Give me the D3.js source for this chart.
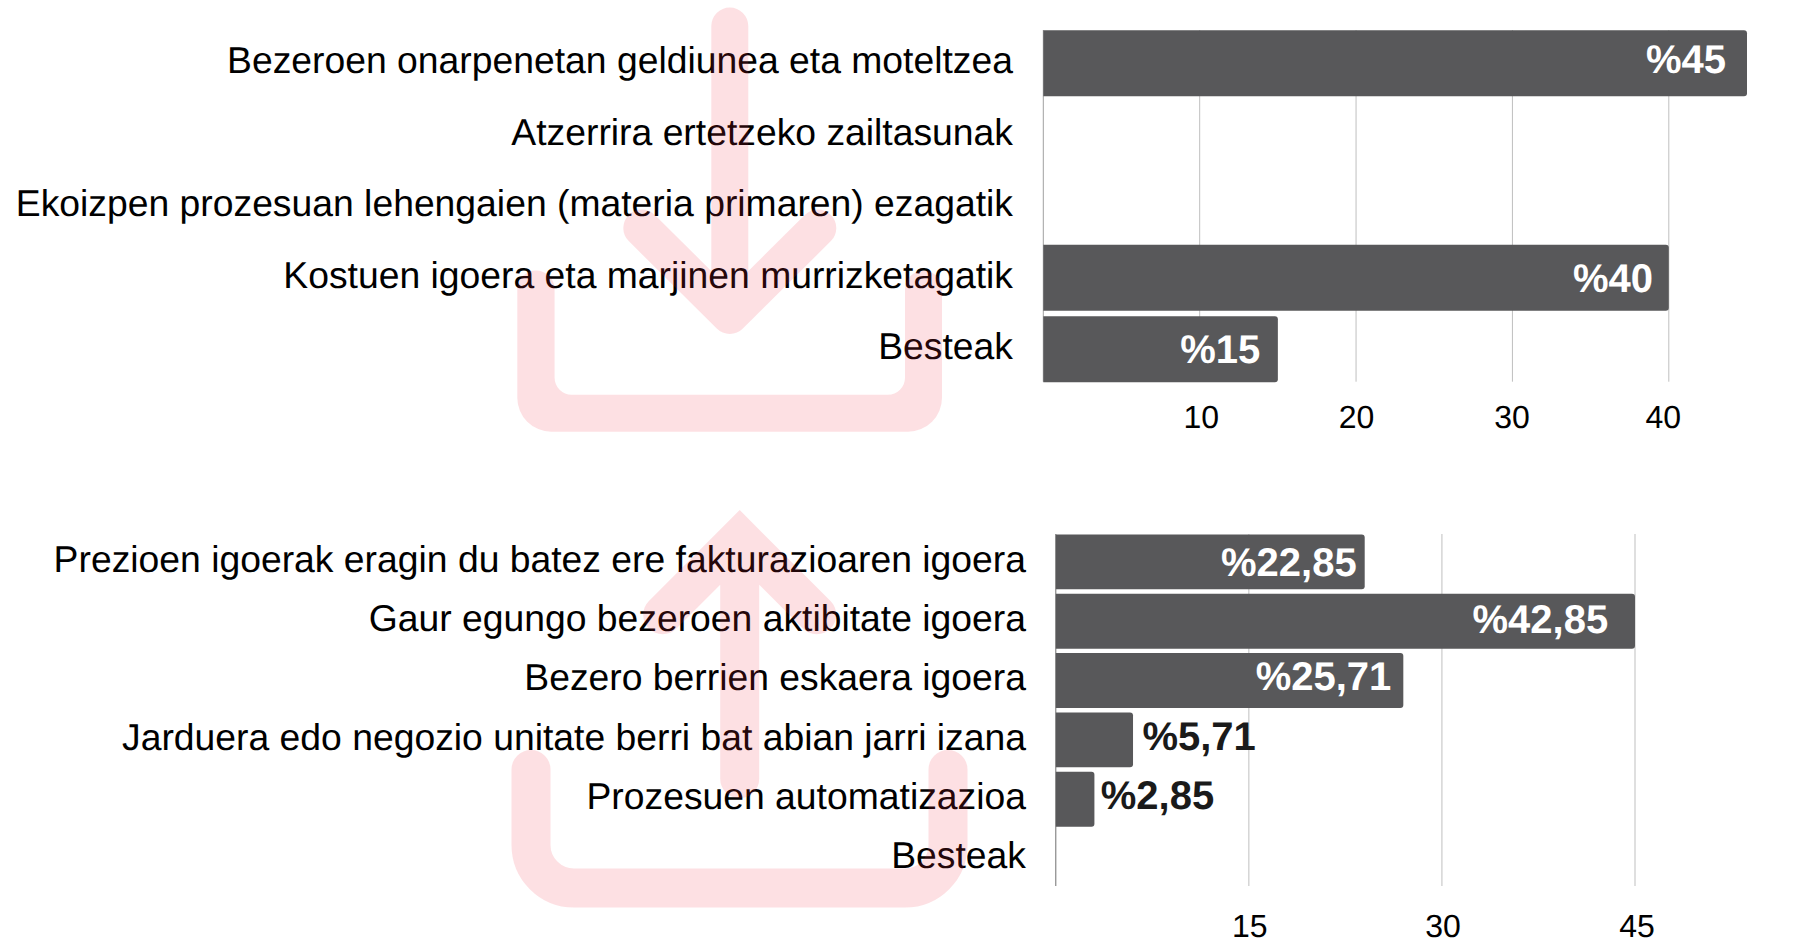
<!DOCTYPE html>
<html><head><meta charset="utf-8">
<script src="https://cdnjs.cloudflare.com/ajax/libs/d3/7.8.5/d3.min.js"></script>
<style>
html,body{margin:0;padding:0;background:#fff;overflow:hidden}
svg{display:block}
text{font-family:"Liberation Sans",Arial,sans-serif;text-rendering:geometricPrecision}
</style></head><body>
<svg id="c" width="1818" height="942"></svg>
<script>
// Top chart
const categoriesA = ["Bezeroen onarpenetan geldiunea eta moteltzea","Atzerrira ertetzeko zailtasunak","Ekoizpen prozesuan lehengaien (materia primaren) ezagatik","Kostuen igoera eta marjinen murrizketagatik","Besteak"];
const valuesA = [45,0,0,40,15];
const labelsA = ["%45","","","%40","%15"];
const ticksA = [10,20,30,40];
// Bottom chart
const categoriesB = ["Prezioen igoerak eragin du batez ere fakturazioaren igoera","Gaur egungo bezeroen aktibitate igoera","Bezero berrien eskaera igoera","Jarduera edo negozio unitate berri bat abian jarri izana","Prozesuen automatizazioa","Besteak"];
const valuesB = [24,45,27,6,3,0];
const labelsB = ["%22,85","%42,85","%25,71","%5,71","%2,85",""];
const ticksB = [15,30,45];

const svg = d3.select("#c");
const BAR = "#58585a", GRID = "#bfbfbf";

function barPath(x0,x1,y,h,r){
  return `M${x0},${y}H${x1-r}Q${x1},${y} ${x1},${y+r}V${y+h-r}Q${x1},${y+h} ${x1-r},${y+h}H${x0}Z`;
}

function chart(o){
  const x = d3.scaleLinear().domain([0,o.xMax]).range([o.x0,o.x1]);
  const y = d3.scaleBand().domain(o.cats).range(o.yRange).paddingInner(o.pad).paddingOuter(o.pad/2);
  const g = svg.append("g");

  // grid
  g.append("g").selectAll("line").data(o.ticks).join("line")
    .attr("x1",d=>x(d)).attr("x2",d=>x(d))
    .attr("y1",o.gridTop).attr("y2",o.gridBottom)
    .attr("stroke",GRID).attr("stroke-width",1);
  g.append("line").attr("x1",x(0)).attr("x2",x(0))
    .attr("y1",o.gridTop).attr("y2",o.gridBottom)
    .attr("stroke",o.axisColor).attr("stroke-width",1);

  // bars
  g.append("g").selectAll("path").data(o.vals.map((v,i)=>({v,c:o.cats[i]})).filter(d=>d.v>0)).join("path")
    .attr("d",d=>barPath(x(0),x(d.v),y(d.c),y.bandwidth(),3))
    .attr("fill",BAR);

  // category labels
  const yAxis = d3.axisLeft(y).tickSize(0).tickPadding(0);
  const ya = g.append("g").attr("transform",`translate(${o.labelRight},${o.catDy})`).call(yAxis);
  ya.select(".domain").remove();
  ya.selectAll("text").attr("font-size",o.catSize).attr("fill","#000").style("font-family",'"Liberation Sans"');

  // x tick labels
  const xAxis = d3.axisBottom(x).tickValues(o.ticks).tickSize(0).tickPadding(0).tickFormat(d3.format("d"));
  const xa = g.append("g").attr("transform",`translate(0,${o.tickY})`).call(xAxis);
  xa.select(".domain").remove();
  xa.selectAll("text").attr("font-size",o.tickSize).attr("fill","#000").attr("dy","0.35em")
    .style("font-family",'"Liberation Sans"')
    .attr("dx",(d,i)=>o.tickDx[i]);

  // data labels
  g.append("g").selectAll("text").data(o.labels.map((l,i)=>({l,i})).filter(d=>d.l)).join("text")
    .attr("x",d=>x(o.vals[d.i])+o.lblDx[d.i])
    .attr("y",d=>y(o.cats[d.i])+y.bandwidth()/2+o.lblDy[d.i])
    .attr("dy","0.36em")
    .attr("text-anchor",d=>o.lblDx[d.i]>0?"start":"end")
    .attr("font-size",o.lblSize).attr("font-weight","bold")
    .attr("fill",d=>o.lblDx[d.i]>0?"#1a1a1a":"#fff")
    .text(d=>d.l);
}

chart({cats:categoriesA,vals:valuesA,labels:labelsA,ticks:ticksA,xMax:45,
  x0:1043.3,x1:1747,yRange:[27.5,385],pad:0.08,gridTop:30,gridBottom:381.7,axisColor:"#a0a0a0",
  labelRight:1013,catDy:-2,catSize:37.3,tickY:417,tickSize:32,tickDx:[1,0,-1,-6],
  lblDx:[-21,0,0,-15.7,-17.6],lblDy:[-4.5,0,0,-0.5,-0.5],lblSize:40});

chart({cats:categoriesB,vals:valuesB,labels:labelsB,ticks:ticksB,xMax:45,
  x0:1055.8,x1:1635,yRange:[532.2,888.2],pad:0.075,gridTop:534,gridBottom:886,axisColor:"#707070",
  labelRight:1026,catDy:-2,catSize:37.3,tickY:926,tickSize:32,tickDx:[0.5,0.6,1.5],
  lblDx:[-8,-26.8,-12,9.4,6.3,0],lblDy:[-0.5,-2.5,-4.5,-4.5,-4.5,0],lblSize:40});

// decorative watermark icons, painted over the text
const ICON = "rgb(240,50,70)";
function tray(l,r,b,top,rad){
  return `M${l},${top}V${b-rad}A${rad},${rad} 0 0 0 ${l+rad},${b}H${r-rad}A${rad},${rad} 0 0 0 ${r},${b-rad}V${top}`;
}
// filled tray outline: the outer and inner corner radii differ
function trayFill(ol,or,ob,il,ir,ib,top,ro,ri){
  const cap=(or-ir)/2;
  return `M${ol},${top+cap}V${ob-ro}A${ro},${ro} 0 0 0 ${ol+ro},${ob}H${or-ro}A${ro},${ro} 0 0 0 ${or},${ob-ro}V${top+cap}`+
    `A${cap},${cap} 0 0 0 ${ir},${top+cap}V${ib-ri}A${ri},${ri} 0 0 1 ${ir-ri},${ib}H${il+ri}A${ri},${ri} 0 0 1 ${il},${ib-ri}V${top+cap}`+
    `A${cap},${cap} 0 0 0 ${ol},${top+cap}Z`;
}
svg.append("path")
  .attr("d",`M729.8,26V315.5M641.8,228L729.8,315.5L817.8,228`)
  .attr("fill","none").attr("stroke",ICON).attr("stroke-width",37)
  .attr("stroke-linecap","round").attr("stroke-linejoin","round").attr("opacity",0.15);
svg.append("path")
  .attr("d",trayFill(517.3,942,431.7,554.6,905,394.7,270.7,34,17))
  .attr("fill",ICON).attr("opacity",0.15);
svg.append("path")
  .attr("d",`M662.7,614.7L739.7,537.7L816.7,614.7M739.7,537.7V778.8`+tray(531,948,888,769.5,43))
  .attr("fill","none").attr("stroke",ICON).attr("stroke-width",39)
  .attr("stroke-linecap","round").attr("stroke-linejoin","miter").attr("stroke-miterlimit",4).attr("opacity",0.15);
</script>
</body></html>
